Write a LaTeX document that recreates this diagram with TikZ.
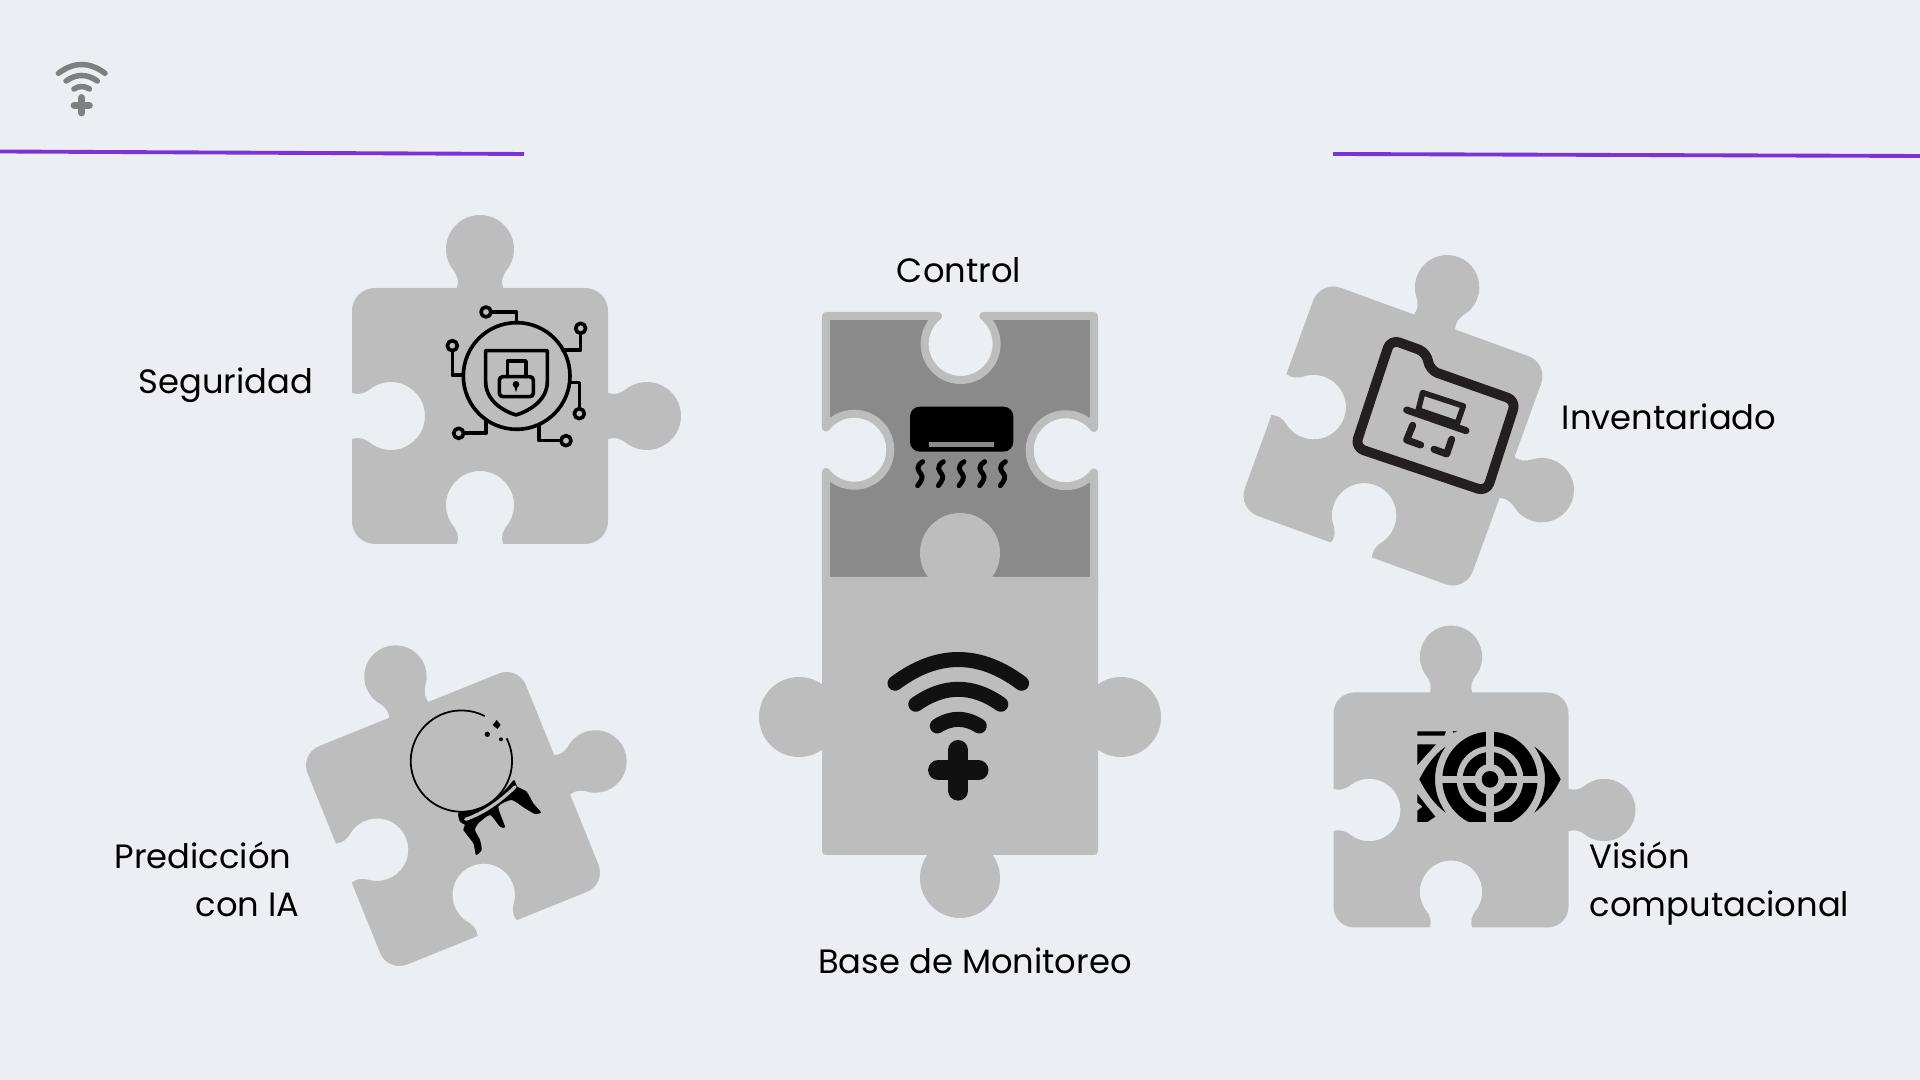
\documentclass[tikz,border=0pt]{standalone}
\usepackage{fontspec}
\setmainfont{Poppins}
\definecolor{pagebg}{RGB}{235,239,243}
\definecolor{piecegray}{RGB}{189,189,189}
\definecolor{piecedark}{RGB}{138,138,138}
\definecolor{iconblack}{RGB}{0,0,0}
\definecolor{icondark}{RGB}{17,17,17}
\definecolor{iconfolder}{RGB}{35,31,32}
\definecolor{wifigray}{RGB}{127,127,127}
\definecolor{rulepurple}{RGB}{125,50,215}
\newcommand{\piecetab}[1]{-- ([#1]-23,0) .. controls ([#1]-21,-7) and ([#1]-22,-12) .. ([#1]-28.2,-20)
  .. controls ([#1]-37.8,-34.2) and ([#1]-35.2,-53.2) .. ([#1]-22.4,-64.5)
  .. controls ([#1]-9.6,-75.8) and ([#1]9.6,-75.8) .. ([#1]22.4,-64.5)
  .. controls ([#1]35.2,-53.2) and ([#1]37.8,-34.2) .. ([#1]28.2,-20)
  .. controls ([#1]22,-12) and ([#1]21,-7) .. ([#1]23,0)}
\newcommand{\piecepath}{(-128,-105) .. controls (-128,-118) and (-118,-128) .. (-105,-128)
  \piecetab{shift={(0,-128)}}
  -- (105,-128) .. controls (118,-128) and (128,-118) .. (128,-105)
  \piecetab{shift={(128,0)},rotate=-90}
  -- (128,105) .. controls (128,118) and (118,128) .. (105,128)
  \piecetab{shift={(0,128)},xscale=-1}
  -- (-105,128) .. controls (-118,128) and (-128,118) .. (-128,105)
  \piecetab{shift={(-128,0)},rotate=-90,xscale=-1} -- cycle}
\tikzset{
  piecelabel/.style={inner sep=0pt,font=\fontsize{9.6pt}{13.66pt}\selectfont,text=black},
  purplerule/.style={draw=rulepurple,line width=1.1pt},
  circuitline/.style={draw=iconblack,line width=1.04pt,line cap=round,line join=round},
  folderline/.style={draw=iconfolder,line width=2.8pt,line cap=round,line join=round},
  hatline/.style={draw=iconfolder,line width=2pt,line cap=round,line join=round},
  heatline/.style={draw=iconblack,line width=1.4pt,line cap=round}
}
\begin{document}
\begin{tikzpicture}[x=0.01cm,y=-0.01cm]
  \useasboundingbox (0,0) rectangle (1920,1080);
  \fill[pagebg] (0,0) rectangle (1920,1080);
  \draw[purplerule] (0,151.5) -- (524,154);
  \draw[purplerule] (1333,154) -- (1920,156);

  \foreach \cx/\cy/\ang/\zoomf in {480/416/0/1, 1393/436/-20/0.948, 453/819/22/0.92, 1451/810/0/0.918}{
    \fill[piecegray,shift={(\cx,\cy)},rotate=\ang,scale=\zoomf] \piecepath;
  }

  % Control piece
  \filldraw[fill=piecedark,draw=piecegray,line width=2.28pt,line join=round,line cap=round]
    (826,590) -- (826,472) arc[start angle=141.8,end angle=-141.8,radius=36]
    -- (826,316) -- (938,316) arc[start angle=231,end angle=-51,radius=36]
    -- (1094,316) -- (1094,428) arc[start angle=321.8,end angle=38.2,radius=36]
    -- (1094,590) -- cycle;

  % Base piece
  \fill[piecegray,rounded corners=1.1pt] (822,577) [sharp corners] -- (1098,577) [rounded corners=1.1pt] -- (1098,855) -- (822,855) [sharp corners] -- cycle;
  \foreach \kx/\ky in {960/553, 799/717, 1121/717, 960/878}{
    \fill[piecegray] (\kx,\ky) circle[radius=40];
  }

  \foreach \wx/\wy/\wf/\wc in {958.3/770.3/1/icondark, 81.7/105.3/0.368/wifigray}{
    \begin{scope}[shift={(\wx,\wy)},scale=\wf]
      \draw[\wc,line width=\wf*4.27pt,line cap=round] (-63.3,-87) .. controls (-21,-118.7) and (21,-118.7) .. (63.3,-87);
      \draw[\wc,line width=\wf*4.27pt,line cap=round] (-42.5,-66) .. controls (-14,-86) and (14,-86) .. (42.5,-66);
      \draw[\wc,line width=\wf*4.27pt,line cap=round] (-21,-44.3) .. controls (-7,-53.2) and (7,-53.2) .. (21,-44.3);
      \draw[\wc,line width=\wf*5.7pt,line cap=round] (0,-20.3) -- (0,20.3);
      \draw[\wc,line width=\wf*5.7pt,line cap=round] (-20.2,0) -- (20.2,0);
    \end{scope}
  }

  % Seguridad icon
  \begin{scope}[shift={(340,200)},scale=1/3]
    \draw[circuitline] (530,528) circle[radius=160];
    \draw[circuitline] (437,452) -- (622,452) -- (622,545) .. controls (622,600) and (570,632) .. (528,645)
      .. controls (486,632) and (437,600) .. (437,545) -- cycle;
    \draw[circuitline,rounded corners=1pt] (478,530) rectangle (580,590);
    \draw[circuitline] (502,530) -- (502,483) -- (558,483) -- (558,530);
    \fill[iconblack] (528,553) circle[radius=10];
    \fill[iconblack] (522,556) -- (534,556) -- (528,577) -- cycle;
    \foreach \rx/\ry in {438/336, 722/385, 337/437, 718/641, 678/722, 356/700}{
      \draw[circuitline] (\rx,\ry) circle[radius=15];
    }
    \draw[circuitline] (453,336) -- (530,336) -- (530,368);
    \draw[circuitline] (722,400) -- (722,450) -- (668,450);
    \draw[circuitline] (337,452) -- (337,525) -- (368,525);
    \draw[circuitline] (718,626) -- (718,548) -- (690,548);
    \draw[circuitline] (663,722) -- (597,722) -- (597,678);
    \draw[circuitline] (371,700) -- (438,700) -- (438,660);
  \end{scope}

  % Control icon
  \begin{scope}[shift={(750,290)},scale=1/3]
    \fill[iconblack,rounded corners=2.8pt] (480,350) rectangle (790,485);
    \fill[piecedark] (536,455) rectangle (732,470);
    \foreach \wx in {510,572,634,696,758}{
      \draw[heatline] (\wx+8,515) .. controls (\wx-15,530) and (\wx-5,542) .. (\wx+3,552) .. controls (\wx+10,562) and (\wx+5,572) .. (\wx-7,587);
    }
  \end{scope}

  % Inventariado icon
  \begin{scope}[shift={(1230,240)},scale=1/3]
    \draw[folderline,rounded corners=2.6pt] (482,298) -- (592,338) -- (597,390) -- (858,482) -- (770,755) -- (375,622) -- cycle;
    \draw[hatline,line width=1.6pt] (578,458) -- (700,498) -- (682,550) -- (565,510) -- cycle;
    \draw[hatline] (530,510) -- (708,572);
    \draw[hatline] (548,556) -- (530,600) -- (572,615);
    \draw[hatline] (665,598) -- (650,642) -- (612,628);
  \end{scope}

  % Prediccion icon
  \begin{scope}[shift={(290,630)},scale=1/3]
    \draw[iconblack,line width=0.5pt] (650,325) arc[start angle=-26.7,end angle=297.3,radius=152];
    \fill[iconblack] (620,270) -- (632,285) -- (622,297) -- (608,285) -- cycle;
    \fill[iconblack] (592,313) circle[radius=8];
    \fill[iconblack] (633,328) circle[radius=6];
    \fill[iconblack] plot[smooth cycle,tension=0.35] coordinates {(506,548) (560,540) (610,512) (650,475) (672,450) (682,470) (710,485) (730,520) (753,547) (735,552) (705,535) (665,510) (625,530) (645,590) (630,590) (600,555) (565,580) (555,600) (570,630) (575,660) (558,675) (550,640) (520,600) (525,585) (510,575)};
    \draw[piecegray,line width=0.9pt,line cap=round] (527,568) .. controls (580,550) and (630,515) .. (676,470);
  \end{scope}

  % Vision icon
  \begin{scope}[shift={(1410,720)},scale=1/3]
    \clip (22,33) rectangle (460,306);
    \fill[iconblack] (240,178) circle[radius=143];
    \fill[piecegray] (240,178) circle[radius=100];
    \fill[iconblack] (240,178) circle[radius=82];
    \fill[piecegray] (240,178) circle[radius=46];
    \fill[piecegray] (229,33) rectangle (251,306);
    \fill[piecegray] (22,167) rectangle (460,189);
    \fill[iconblack] (240,178) circle[radius=25];
    \fill[iconblack] (373,80) .. controls (410,105) and (435,145) .. (452,178) .. controls (435,211) and (410,251) .. (373,278) .. controls (395,245) and (405,212) .. (405,178) .. controls (405,144) and (395,111) .. (373,80) -- cycle;
    \fill[iconblack] (107,80) .. controls (70,105) and (45,145) .. (28,178) .. controls (45,211) and (70,251) .. (107,278) .. controls (85,245) and (75,212) .. (75,178) .. controls (75,144) and (85,111) .. (107,80) -- cycle;
    \fill[iconblack] (22,34) -- (108,34) -- (103,47) -- (22,47) -- cycle;
    \fill[iconblack] (128,33) -- (142,35) -- (130,38) -- cycle;
    \fill[iconblack] (22,73) -- (78,73) -- (22,135) -- cycle;
    \fill[iconblack] (22,222) -- (76,290) -- (52,306) -- (22,306) -- (22,272) -- (38,260) -- (22,248) -- cycle;
  \end{scope}

  \node[piecelabel,anchor=base] (control) at (959,283) {Control};
  \node[piecelabel,anchor=base west] (seguridad) at (138,394) {Seguridad};
  \node[piecelabel,anchor=base west] (inventariado) at (1561,430) {Inventariado};
  \node[piecelabel,anchor=base east,align=right] (prediccion) at (300,917) {Predicción\hspace*{0.08cm}\\con IA};
  \node[piecelabel,anchor=base west,align=left] (vision) at (1589,917) {Visión\\computacional};
  \node[piecelabel,anchor=base] (base) at (975,974) {Base de Monitoreo};
\end{tikzpicture}
\end{document}
